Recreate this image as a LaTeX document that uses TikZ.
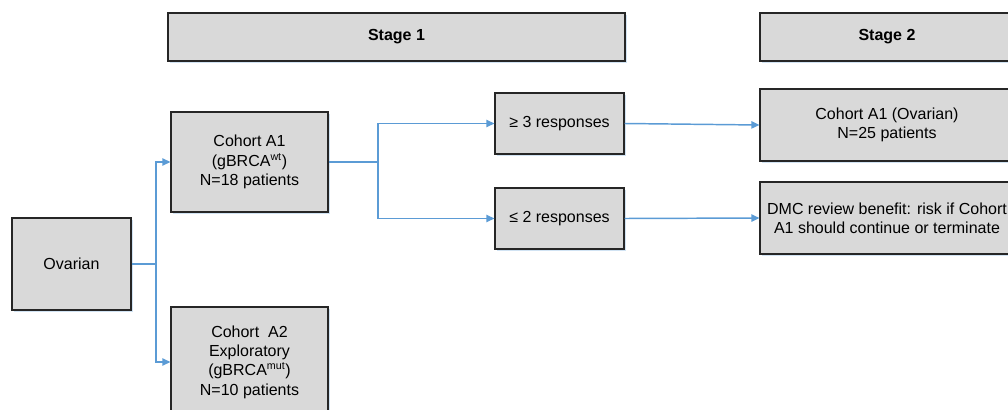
\documentclass[tikz,border=0pt]{standalone}
\usepackage{fontspec}
\setmainfont{Liberation Sans}
\usetikzlibrary{arrows.meta,shadows}
\definecolor{boxfill}{HTML}{D9D9D9}
\definecolor{boxline}{HTML}{262626}
\definecolor{flow}{HTML}{5B9BD5}
\definecolor{shade}{HTML}{BDD7EE}
\tikzset{
  box/.style={draw=boxline, line width=0.9pt, fill=boxfill, align=center,
    inner sep=0pt, font=\fontsize{12}{14.5}\selectfont,
    drop shadow={shadow xshift=1.2pt, shadow yshift=-1.5pt, fill=shade, opacity=0.7}},
  flowline/.style={draw=flow, line width=1.1pt, -{Triangle[length=6pt,width=5.5pt]}},
  joint/.style={draw=flow, line width=1.1pt}
}
\begin{document}
\begin{tikzpicture}[x=0.75pt, y=-0.75pt]
\useasboundingbox (0,0) rectangle (1008,410);
\clip (0,0) rectangle (1008,410);

% stage headers
\node[box, minimum width=457*0.75pt, minimum height=48*0.75pt, font=\fontsize{12}{14.5}\selectfont\bfseries]
  (stageone) at (396.5,37) {Stage 1};
\node[box, minimum width=254*0.75pt, minimum height=48*0.75pt, font=\fontsize{12}{14.5}\selectfont\bfseries]
  (stagetwo) at (887,37) {Stage 2};

% stage 1 flow
\node[box, minimum width=119*0.75pt, minimum height=92*0.75pt] (ovarian) at (71.5,264) {Ovarian};
\node[box, minimum width=157*0.75pt, minimum height=100*0.75pt] (cohortA1) at (249.5,162)
  {Cohort A1\\(gBRCA\textsuperscript{wt})\\N=18 patients};
\node[box, minimum width=157*0.75pt, minimum height=110*0.75pt] (cohortA2) at (249.5,362)
  {Cohort\ \ A2\\Exploratory\\(gBRCA\textsuperscript{mut})\\N=10 patients};
\node[box, minimum width=129*0.75pt, minimum height=61*0.75pt] (resphigh) at (559.5,123.5)
  {≥ 3 responses};
\node[box, minimum width=129*0.75pt, minimum height=61*0.75pt] (resplow) at (559.5,218.5)
  {≤ 2 responses};

% stage 2 outcomes
\node[box, minimum width=254*0.75pt, minimum height=72*0.75pt] (expand) at (887,125)
  {Cohort A1 (Ovarian)\\N=25 patients};
\node[box, minimum width=254*0.75pt, minimum height=72*0.75pt] (review) at (887,218)
  {DMC review benefit: risk if Cohort\\A1 should continue or terminate};

% connectors
\coordinate (splitA) at (156,264);
\coordinate (splitB) at (378,162);
\draw[joint] (ovarian.east) -- (splitA);
\draw[flowline] (splitA) |- (cohortA1.west);
\draw[flowline] (splitA) |- (cohortA2.west);
\draw[joint] (cohortA1.east) -- (splitB);
\draw[flowline] (splitB) |- (resphigh.west);
\draw[flowline] (splitB) |- (resplow.west);
\draw[flowline] (resphigh.east) -- (expand.west);
\draw[flowline] (resplow.east) -- (review.west);
\end{tikzpicture}
\end{document}
